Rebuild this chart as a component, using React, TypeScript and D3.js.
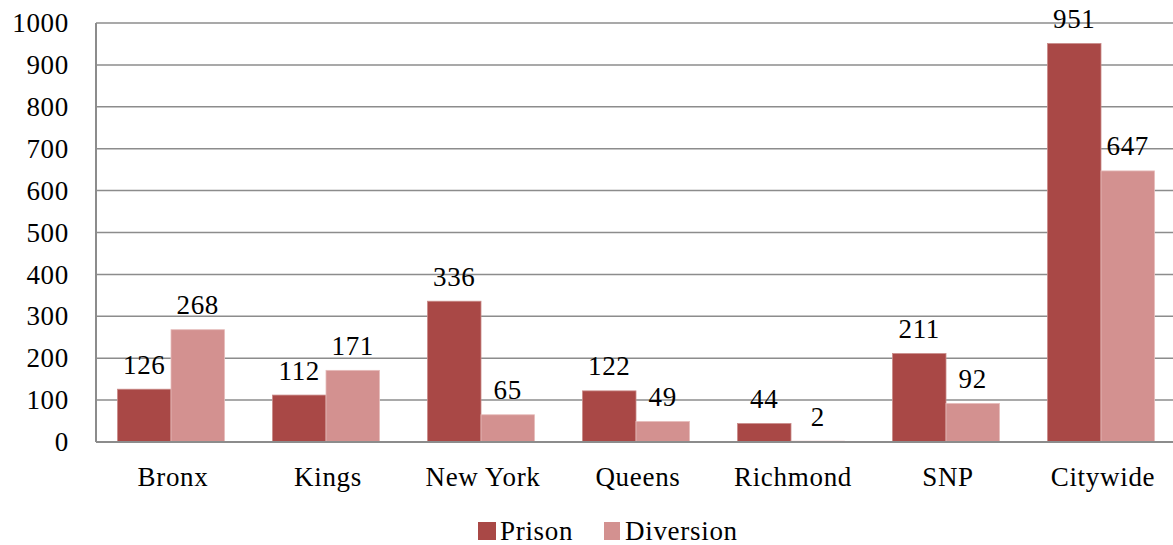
import React, { useEffect, useRef } from "react";
import * as d3 from "d3";

const categories = ["Bronx", "Kings", "New York", "Queens", "Richmond", "SNP", "Citywide"];
const prison = [126, 112, 336, 122, 44, 211, 951];
const diversion = [268, 171, 65, 49, 2, 92, 647];
const seriesNames = ["Prison", "Diversion"];
const yTicks = [0, 100, 200, 300, 400, 500, 600, 700, 800, 900, 1000];

const W = 1173;
const H = 545;
const FONT = "'Liberation Serif', 'DejaVu Serif', serif";
const FONT_SIZE = 27;
const SPACING = 0.7;
const COLORS = ["#A94846", "#D39190"];

export default function App() {
  const ref = useRef<SVGSVGElement | null>(null);

  useEffect(() => {
    const svg = d3.select(ref.current);
    svg.selectAll("*").remove();

    const plotLeft = 96;
    const plotRight = 1178;
    const y = d3.scaleLinear().domain([0, 1000]).range([442, 23]);
    const x = d3.scaleBand<string>().domain(categories).range([93.5, 1178.5]).paddingInner(0).paddingOuter(0);
    const barW = 53.5;

    const styleText = (sel: d3.Selection<any, any, any, any>) =>
      sel
        .attr("font-family", FONT)
        .attr("font-size", FONT_SIZE)
        .attr("letter-spacing", SPACING)
        .attr("fill", "#000");

    // horizontal gridlines
    svg
      .append("g")
      .selectAll("line")
      .data(yTicks)
      .join("line")
      .attr("x1", plotLeft)
      .attr("x2", plotRight)
      .attr("y1", (d) => y(d))
      .attr("y2", (d) => y(d))
      .attr("stroke", "#8c8c8c")
      .attr("stroke-width", 1.5);

    // y tick labels
    svg
      .append("g")
      .selectAll("text")
      .data(yTicks)
      .join("text")
      .attr("x", 69)
      .attr("y", (d) => y(d))
      .attr("dy", "0.34em")
      .attr("text-anchor", "end")
      .call(styleText)
      .text((d) => d);

    const series = [prison, diversion];
    series.forEach((vals, si) => {
      const g = svg.append("g");
      g.selectAll("rect")
        .data(vals)
        .join("rect")
        .attr("x", (_, i) => x(categories[i])! + x.bandwidth() / 2 - barW + si * barW)
        .attr("y", (d) => y(d))
        .attr("width", barW)
        .attr("height", (d) => y(0) - y(d))
        .attr("fill", COLORS[si])
        .attr("stroke", si === 0 ? "#c98a88" : "#e6bcbb")
        .attr("stroke-width", 0.8);
      g.selectAll("text")
        .data(vals)
        .join("text")
        .attr("x", (_, i) => x(categories[i])! + x.bandwidth() / 2 - barW / 2 + si * barW)
        .attr("y", (d) => y(d) - 15.5)
        .attr("text-anchor", "middle")
        .call(styleText)
        .text((d) => d);
    });

    // axis lines
    svg
      .append("line")
      .attr("x1", plotLeft)
      .attr("x2", plotLeft)
      .attr("y1", y(1000))
      .attr("y2", y(0))
      .attr("stroke", "#8c8c8c")
      .attr("stroke-width", 2);
    svg
      .append("line")
      .attr("x1", plotLeft)
      .attr("x2", plotRight)
      .attr("y1", y(0))
      .attr("y2", y(0))
      .attr("stroke", "#8c8c8c")
      .attr("stroke-width", 2);

    // category labels
    svg
      .append("g")
      .selectAll("text")
      .data(categories)
      .join("text")
      .attr("x", (d) => x(d)! + x.bandwidth() / 2 + 2)
      .attr("y", 486)
      .attr("text-anchor", "middle")
      .call(styleText)
      .text((d) => d);

    // legend
    const legendX = [478, 604];
    const legend = svg.append("g");
    seriesNames.forEach((name, i) => {
      legend
        .append("rect")
        .attr("x", legendX[i])
        .attr("y", 522)
        .attr("width", i === 0 ? 18 : 16)
        .attr("height", 18)
        .attr("fill", COLORS[i]);
      legend
        .append("text")
        .attr("x", legendX[i] + (i === 0 ? 22 : 21))
        .attr("y", 540)
        .call(styleText)
        .text(name);
    });
  }, []);

  return (
    <svg
      ref={ref}
      width={W}
      height={H}
      style={{ position: "absolute", left: 0, top: 0, background: "#fff" }}
    />
  );
}
